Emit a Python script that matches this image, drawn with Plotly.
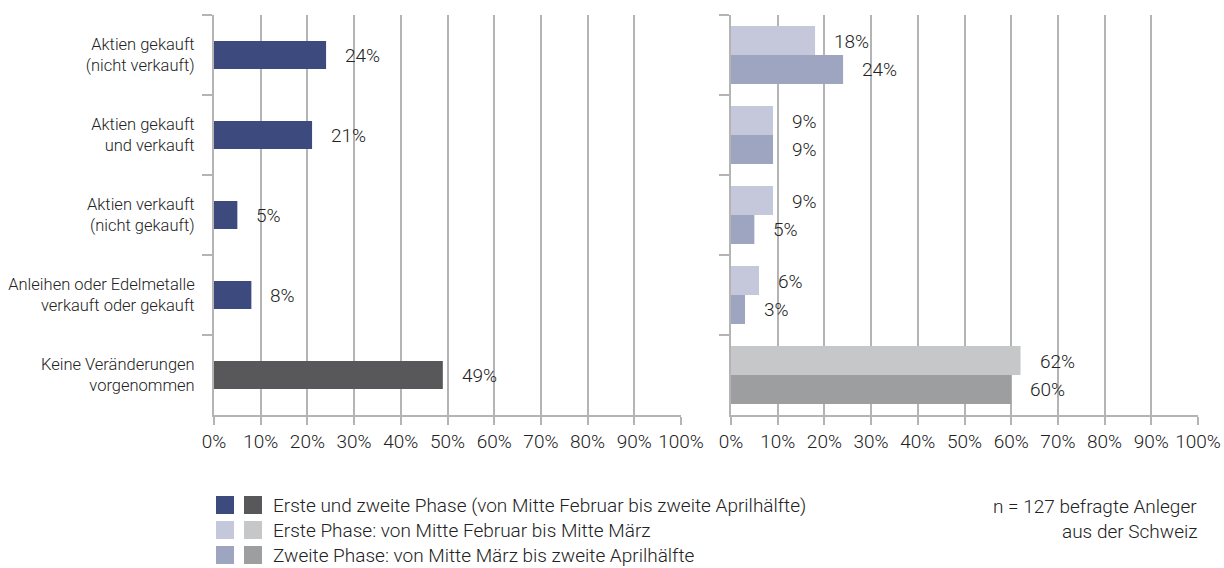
import plotly.graph_objects as go

categories = [
    "Aktien gekauft<br>(nicht verkauft)",
    "Aktien gekauft<br>und verkauft",
    "Aktien verkauft<br>(nicht gekauft)",
    "Anleihen oder Edelmetalle<br>verkauft oder gekauft",
    "Keine Veränderungen<br>vorgenommen",
]
gesamt = [24, 21, 5, 8, 49]
phase1 = [18, 9, 9, 6, 62]
phase2 = [24, 9, 5, 3, 60]
x_ticks = list(range(0, 101, 10))
x_ticktext = [f"{v}%" for v in x_ticks]

legend_labels = [
    "Erste und zweite Phase (von Mitte Februar bis zweite Aprilhälfte)",
    "Erste Phase: von Mitte Februar bis Mitte März",
    "Zweite Phase: von Mitte März bis zweite Aprilhälfte",
]
note_lines = ["n = 127 befragte Anleger", "aus der Schweiz"]

BLUE = ["#3c4a7d", "#c5c8da", "#9ea5c1"]
GREY = ["#58585a", "#c6c7c9", "#9d9ea0"]
GREY_MAP = dict(zip(BLUE, GREY))
last = len(categories) - 1

FONT = "Roboto"
TXT = "#222222"
GRID = "#b4b4b4"

W, H = 1224, 568
TOP, BOTTOM = 15, 415          # plot area in pixels
PLOT_H = BOTTOM - TOP


def colors(base):
    # the "no change" row is drawn in grey tones
    return [GREY_MAP[base] if i == last else base for i in range(len(categories))]


def px_y(ypix):
    return (BOTTOM - ypix) / PLOT_H


fig = go.Figure()

fig.add_trace(go.Bar(
    y=categories, x=gesamt, orientation="h", width=0.35,
    marker=dict(color=colors(BLUE[0]), line=dict(width=0)),
    xaxis="x", yaxis="y", showlegend=False, hoverinfo="x+y",
))
fig.add_trace(go.Bar(
    y=categories, x=phase1, orientation="h",
    marker=dict(color=colors(BLUE[1]), line=dict(width=0)),
    xaxis="x2", yaxis="y2", showlegend=False, hoverinfo="x+y",
))
fig.add_trace(go.Bar(
    y=categories, x=phase2, orientation="h",
    marker=dict(color=colors(BLUE[2]), line=dict(width=0)),
    xaxis="x2", yaxis="y2", showlegend=False, hoverinfo="x+y",
))

annotations = []
label_font = dict(family=FONT, size=19, color=TXT, weight=300)
for cat, v in zip(categories, gesamt):
    annotations.append(dict(x=v, y=cat, xref="x", yref="y", text=f"{v}%",
                            showarrow=False, xanchor="left", xshift=17,
                            font=label_font))
for vals, ys in ((phase1, 14), (phase2, -14)):
    for cat, v in zip(categories, vals):
        annotations.append(dict(x=v, y=cat, xref="x2", yref="y2", text=f"{v}%",
                                showarrow=False, xanchor="left", xshift=17,
                                yshift=ys, font=label_font))

shapes = []
leg_font = dict(family=FONT, size=19, color=TXT, weight=300)
row_y = [505, 530, 555]
for i, (lab, yc) in enumerate(zip(legend_labels, row_y)):
    for x0, col in ((216, BLUE[i]), (244, GREY[i])):
        shapes.append(dict(type="rect", xref="paper", yref="paper",
                           x0=x0 / W, x1=(x0 + 18) / W,
                           y0=px_y(yc + 9), y1=px_y(yc - 9),
                           fillcolor=col, line=dict(width=0)))
    annotations.append(dict(x=271 / W, y=px_y(yc), xref="paper", yref="paper",
                            text=lab, showarrow=False, xanchor="left",
                            yanchor="middle", font=leg_font))
for line, yc in zip(note_lines, [506, 531]):
    annotations.append(dict(x=1199 / W, y=px_y(yc), xref="paper", yref="paper",
                            text=line, showarrow=False, xanchor="right",
                            yanchor="middle", font=leg_font))

xaxis_common = dict(
    range=[0, 100], tickvals=x_ticks, ticktext=x_ticktext,
    showgrid=True, gridcolor=GRID, gridwidth=2,
    showline=True, linecolor=GRID, linewidth=2,
    ticks="outside", ticklen=8, tickwidth=2, tickcolor=GRID,
    tickfont=dict(family=FONT, size=19, color=TXT, weight=300),
    zeroline=False, fixedrange=True,
)
yaxis_common = dict(
    type="category", autorange="reversed", categoryorder="array",
    categoryarray=categories, tickson="boundaries",
    ticks="outside", ticklen=10, tickwidth=2, tickcolor=GRID,
    showline=True, linecolor=GRID, linewidth=2, showgrid=False,
    zeroline=False, fixedrange=True,
)

fig.update_layout(
    width=W, height=H,
    margin=dict(l=0, r=0, t=TOP, b=H - BOTTOM, autoexpand=False),
    paper_bgcolor="white", plot_bgcolor="white",
    barmode="group", bargap=0.275, bargroupgap=0,
    xaxis=dict(domain=[214 / W, 681 / W], anchor="y", **xaxis_common),
    xaxis2=dict(domain=[731 / W, 1198 / W], anchor="y2", **xaxis_common),
    yaxis=dict(anchor="x", showticklabels=True, ticklabelstandoff=14,
               tickfont=dict(family=FONT, size=16.5, color=TXT, weight=300),
               **yaxis_common),
    yaxis2=dict(anchor="x2", showticklabels=False, **yaxis_common),
    annotations=annotations, shapes=shapes,
    showlegend=False,
)

fig.write_html("out.html")
